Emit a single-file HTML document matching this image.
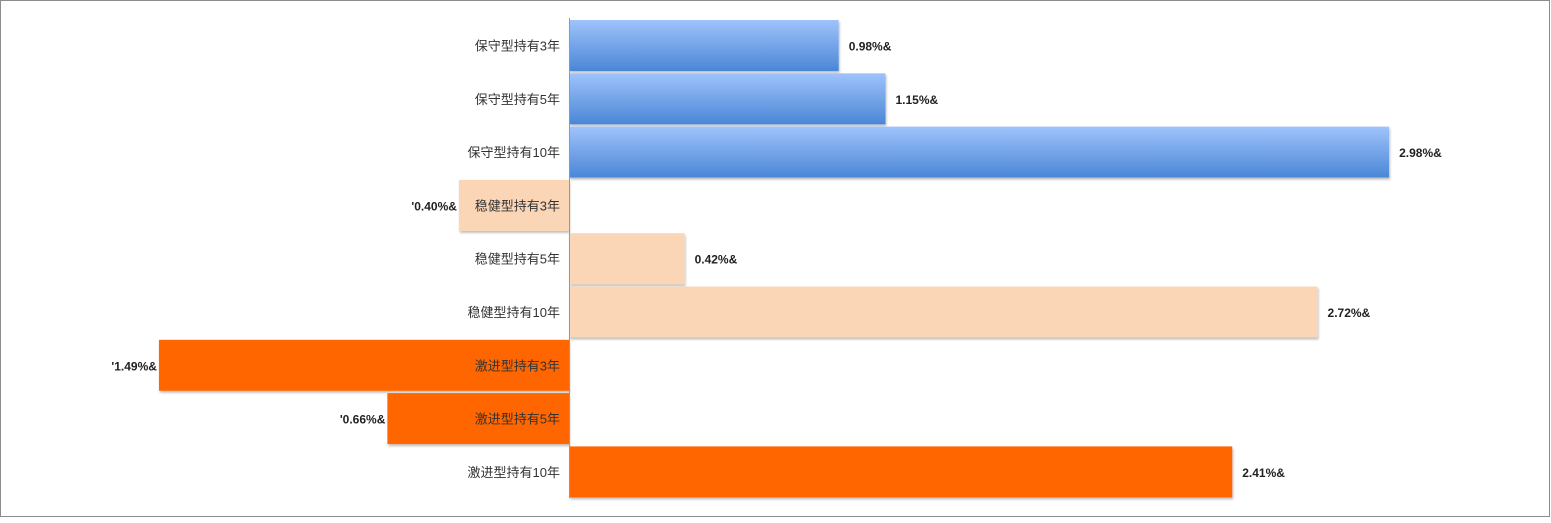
<!DOCTYPE html>
<html><head><meta charset="utf-8"><style>
body{margin:0;width:1551px;height:518px;background:#fff;overflow:hidden}
svg text{font-family:"Liberation Sans","Noto Sans CJK SC",sans-serif}
</style></head><body>
<svg id="chart" width="1551" height="518" xmlns="http://www.w3.org/2000/svg">
<defs>
<linearGradient id="blue" x1="0" y1="0" x2="0" y2="1"><stop offset="0" stop-color="#9fc3fb"/><stop offset="1" stop-color="#4a86d6"/></linearGradient>
<filter id="sh" x="-5%" y="-5%" width="110%" height="120%"><feDropShadow dx="1" dy="2" stdDeviation="1" flood-color="#000" flood-opacity="0.25"/></filter>
</defs>
<rect x="0.5" y="0.5" width="1549" height="516" fill="#fff" stroke="#8c8c8c"/>
<g id="bars"></g>
<line x1="569.5" y1="18" x2="569.5" y2="498" stroke="#999"/>
</svg>
<script>
const categories=["保守型持有3年","保守型持有5年","保守型持有10年","稳健型持有3年","稳健型持有5年","稳健型持有10年","激进型持有3年","激进型持有5年","激进型持有10年"];
const values=[0.98,1.15,2.98,-0.40,0.42,2.72,-1.49,-0.66,2.41];
const groups=[0,0,0,1,1,1,2,2,2];
const fills=["url(#blue)","#fad5b6","#ff6600"];
const x0=569, k=275.2, yTop=20, pitch=53.3, bh=51;
const xs=v=>x0+v*k;
const g=document.getElementById('bars');
const NS="http://www.w3.org/2000/svg";
values.forEach((v,i)=>{
  const y=yTop+i*pitch;
  const r=document.createElementNS(NS,'rect');
  
  
  const a=Math.min(xs(0),xs(v)), w=Math.abs(xs(v)-xs(0));
  r.setAttribute('x',a);r.setAttribute('y',y);r.setAttribute('width',w);r.setAttribute('height',bh);
  r.setAttribute('fill',fills[groups[i]]);r.setAttribute('filter','url(#sh)');
  g.appendChild(r);
  const c=document.createElementNS(NS,'text');
  
  
  c.setAttribute('x',560);c.setAttribute('y',y+bh/2+5);c.setAttribute('text-anchor','end');
  c.setAttribute('font-size','13');c.setAttribute('fill','#333');
  c.textContent=categories[i];
  g.appendChild(c);
  const t=document.createElementNS(NS,'text');
  
  
  const s=(v<0?"'":"")+Math.abs(v).toFixed(2)+"%&";
  if(v>=0){t.setAttribute('x',xs(v)+10);t.setAttribute('text-anchor','start');}
  else{t.setAttribute('x',xs(v)-2);t.setAttribute('text-anchor','end');}
  t.setAttribute('y',y+bh/2+5);t.setAttribute('font-size','12');t.setAttribute('font-weight','bold');t.setAttribute('fill','#222');
  t.textContent=s;
  g.appendChild(t);
});
</script>
</body></html>
